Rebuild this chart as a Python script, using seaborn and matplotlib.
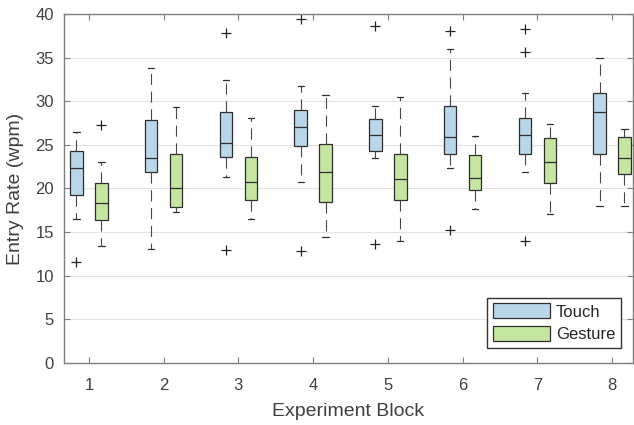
import pandas as pd
import matplotlib
matplotlib.use("Agg")
import matplotlib.pyplot as plt
import seaborn as sns

blocks = ["1", "2", "3", "4", "5", "6", "7", "8"]
series = ["Touch", "Gesture"]

# box stats: lower whisker, Q1, median, Q3, upper whisker
touch_lo = [16.5, 13.1, 21.3, 20.7, 23.5, 22.3, 21.9, 17.95]
touch_q1 = [19.3, 21.9, 23.6, 24.9, 24.3, 24.0, 23.95, 23.9]
touch_med = [22.4, 23.5, 25.2, 27.1, 26.1, 25.9, 26.1, 28.8]
touch_q3 = [24.3, 27.85, 28.8, 29.0, 28.0, 29.4, 28.1, 31.0]
touch_hi = [26.5, 33.8, 32.4, 31.8, 29.5, 35.95, 30.9, 34.95]

gesture_lo = [13.4, 17.3, 16.5, 14.4, 14.0, 17.65, 17.05, 17.95]
gesture_q1 = [16.4, 17.9, 18.7, 18.45, 18.7, 19.8, 20.6, 21.7]
gesture_med = [18.3, 20.05, 20.8, 21.85, 21.05, 21.25, 23.0, 23.5]
gesture_q3 = [20.6, 23.9, 23.6, 25.1, 23.9, 23.8, 25.8, 25.9]
gesture_hi = [23.0, 29.3, 28.1, 30.7, 30.5, 26.05, 27.4, 26.85]

# outliers per block
touch_out = [[11.6], [], [37.8, 12.95], [39.4, 12.8], [38.6, 13.6], [38.05, 15.2], [38.3, 35.6, 14.0], []]
gesture_out = [[27.3], [], [], [], [], [], [], []]

# long tables for seaborn
rows = []
for name, stats in [("Touch", [touch_lo, touch_q1, touch_med, touch_q3, touch_hi]),
                    ("Gesture", [gesture_lo, gesture_q1, gesture_med, gesture_q3, gesture_hi])]:
    for i, b in enumerate(blocks):
        for s in stats:
            rows.append({"Block": b, "Input": name, "Rate": s[i]})
box_df = pd.DataFrame(rows)

out_rows = []
for name, outs in [("Touch", touch_out), ("Gesture", gesture_out)]:
    for b, vals in zip(blocks, outs):
        for k, v in enumerate(vals):
            out_rows.append({"Block": b, "Input": name, "Rate": v, "k": k})
out_df = pd.DataFrame(out_rows)

sns.set_style("ticks")
plt.rcParams['font.family'] = ['Liberation Sans', 'DejaVu Sans']

fig = plt.figure(figsize=(6.34, 4.25), dpi=100)
ax = fig.add_axes([0.1002, 0.1459, 0.8981, 0.8212])
ax.yaxis.grid(True, color="#e3e3e3", lw=0.8)
ax.set_axisbelow(True)

sns.boxplot(
    data=box_df, x="Block", y="Rate", hue="Input",
    order=blocks, hue_order=series,
    palette={"Touch": "#b8d7e8", "Gesture": "#c5e6a1"},
    saturation=1, whis=(0, 100), width=0.667, gap=0.5,
    linecolor="#2e2e2e", linewidth=0.9, showfliers=False,
    whiskerprops={"linestyle": (0, (10, 6)), "color": "#474747", "linewidth": 0.8},
    ax=ax,
)

for k in sorted(out_df["k"].unique()):
    sns.pointplot(
        data=out_df[out_df["k"] == k], x="Block", y="Rate", hue="Input",
        order=blocks, hue_order=series,
        palette={"Touch": "#222222", "Gesture": "#222222"},
        dodge=0.333, markers="+", linestyles="none", errorbar=None,
        legend=False, markersize=6.5, markeredgewidth=0.9, ax=ax,
    )

ax.set_xlim(-0.34, 7.28)
ax.set_ylim(0, 40)
ax.set_yticks(range(0, 41, 5))
ax.set_xlabel("Experiment Block", fontsize=14, color="#404040", labelpad=7)
ax.set_ylabel("Entry Rate (wpm)", fontsize=14, color="#404040", labelpad=8)
ax.tick_params(direction="in", length=4, width=0.8, colors="#7f7f7f",
               labelcolor="#404040", labelsize=12, top=True, right=True)
ax.tick_params(axis="x", pad=11)
ax.tick_params(axis="y", pad=7)
for sp in ax.spines.values():
    sp.set_visible(True)
    sp.set_color("#7f7f7f")
    sp.set_linewidth(1.0)

sns.move_legend(
    ax, "lower right", bbox_to_anchor=(0.979, 0.043), borderaxespad=0,
    title=None, fontsize=12, handlelength=3.4, handleheight=1.0,
    labelspacing=0.38, handletextpad=0.35, borderpad=0.35,
    fancybox=False, framealpha=1, edgecolor="#333333",
)

fig.savefig("out.png", dpi=100)
